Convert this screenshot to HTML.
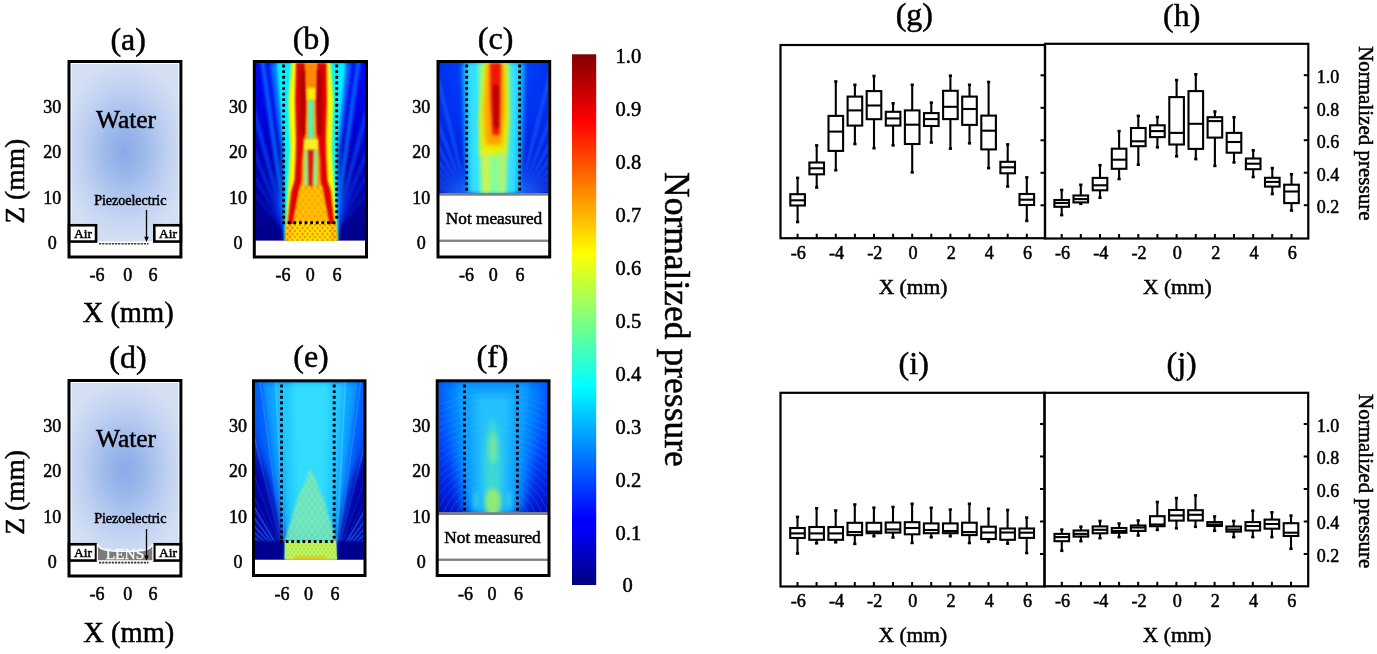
<!DOCTYPE html>
<html><head><meta charset="utf-8"><style>
html,body{margin:0;padding:0;background:#fff;width:1377px;height:654px;overflow:hidden}
svg{display:block;will-change:transform}
text{font-family:"Liberation Serif", serif;fill:#000;stroke:#000;stroke-width:0.5px}
</style></head><body>
<svg width="1377" height="654" viewBox="0 0 1377 654">
<defs><linearGradient id="jetv" x1="0" y1="0" x2="0" y2="1"><stop offset="0.000" stop-color="#800000"/><stop offset="0.110" stop-color="#f00000"/><stop offset="0.125" stop-color="#ff0000"/><stop offset="0.340" stop-color="#ffdb00"/><stop offset="0.375" stop-color="#ffff00"/><stop offset="0.500" stop-color="#7fff7f"/><stop offset="0.625" stop-color="#00ffff"/><stop offset="0.660" stop-color="#00dbff"/><stop offset="0.875" stop-color="#0000ff"/><stop offset="0.890" stop-color="#0000ff"/><stop offset="1.000" stop-color="#000080"/></linearGradient><radialGradient id="water" cx="0.5" cy="0.49" r="0.6" fx="0.5" fy="0.49" gradientTransform="translate(0.5 0.49) scale(1 0.85) translate(-0.5 -0.49)"><stop offset="0" stop-color="#89aae8"/><stop offset="0.3" stop-color="#9db9eb"/><stop offset="0.65" stop-color="#bdcff1"/><stop offset="1" stop-color="#d4dff4"/></radialGradient><pattern id="latt" width="6" height="8" patternUnits="userSpaceOnUse"><rect width="6" height="8" fill="#ff7400"/><path d="M0 0 L6 8 M6 0 L0 8" stroke="#ffe000" stroke-width="1.8"/></pattern><pattern id="latt2" width="5" height="6" patternUnits="userSpaceOnUse"><rect width="5" height="6" fill="#ff8000"/><path d="M0 0 L5 6 M5 0 L0 6" stroke="#ffe800" stroke-width="1.5"/></pattern><pattern id="lattG" width="6" height="9" patternUnits="userSpaceOnUse"><rect width="6" height="9" fill="#30e0f0"/><path d="M0 0 L6 9 M6 0 L0 9" stroke="#b8f050" stroke-width="1.5"/></pattern><pattern id="lattY" width="4" height="6" patternUnits="userSpaceOnUse"><rect width="4" height="6" fill="#70f0a0"/><path d="M0 0 L4 6 M4 0 L0 6" stroke="#e0f030" stroke-width="1.3"/></pattern><filter id="bl0_6" x="-30%" y="-30%" width="160%" height="160%"><feGaussianBlur stdDeviation="0.6"/></filter><filter id="bl1" x="-30%" y="-30%" width="160%" height="160%"><feGaussianBlur stdDeviation="1"/></filter><filter id="bl1_5" x="-30%" y="-30%" width="160%" height="160%"><feGaussianBlur stdDeviation="1.5"/></filter><filter id="bl2" x="-30%" y="-30%" width="160%" height="160%"><feGaussianBlur stdDeviation="2"/></filter><filter id="bl3" x="-30%" y="-30%" width="160%" height="160%"><feGaussianBlur stdDeviation="3"/></filter><filter id="bl4" x="-30%" y="-30%" width="160%" height="160%"><feGaussianBlur stdDeviation="4"/></filter><filter id="bl6" x="-30%" y="-30%" width="160%" height="160%"><feGaussianBlur stdDeviation="6"/></filter></defs>
<rect width="1377" height="654" fill="#fff"/>
<rect x="71.5" y="64" width="106.9" height="190.5" fill="#fff"/>
<rect x="71.5" y="64" width="106.9" height="177.5" fill="url(#water)"/>
<rect x="70.5" y="242" width="108.9" height="14" fill="#fff"/>
<rect x="69.0" y="225.25" width="27.049999999999997" height="16.30000000000001" fill="#fff" stroke="#000" stroke-width="2.6"/>
<rect x="154.3" y="225.25" width="26.600000000000005" height="16.30000000000001" fill="#fff" stroke="#000" stroke-width="2.6"/>
<text x="83" y="238.3" font-size="13.5" text-anchor="middle" >Air</text>
<text x="168" y="238.3" font-size="13.5" text-anchor="middle" >Air</text>
<line x1="99" y1="243.8" x2="148.5" y2="243.8" stroke="#333" stroke-width="1.6" stroke-dasharray="2.2 1"/>
<line x1="146.5" y1="210" x2="146.5" y2="238.8" stroke="#000" stroke-width="1.3"/>
<path d="M144.2 236.8 L148.8 236.8 L146.5 242.0 Z" fill="#000"/>
<text x="130.3" y="204.5" font-size="14" text-anchor="middle" >Piezoelectric</text>
<text x="126" y="127.8" font-size="25.5" text-anchor="middle" >Water</text>
<rect x="69.0" y="61.5" width="111.9" height="195.5" fill="none" stroke="#000" stroke-width="3"/>
<rect x="71.5" y="383" width="106.9" height="190.5" fill="#fff"/>
<rect x="71.5" y="383" width="106.9" height="177.5" fill="url(#water)"/>
<rect x="70.5" y="561" width="108.9" height="14" fill="#fff"/>
<rect x="69.0" y="544.25" width="27.049999999999997" height="16.299999999999955" fill="#fff" stroke="#000" stroke-width="2.6"/>
<rect x="154.3" y="544.25" width="26.600000000000005" height="16.299999999999955" fill="#fff" stroke="#000" stroke-width="2.6"/>
<text x="83" y="557.3" font-size="13.5" text-anchor="middle" >Air</text>
<text x="168" y="557.3" font-size="13.5" text-anchor="middle" >Air</text>
<path d="M97.3 543.5 C99 550.5 108 551.5 125 551.5 C142 551.5 151 550.5 152.9 543.5 L152.9 560.8 L97.3 560.8 Z" fill="#7f7b7b" stroke="#fff" stroke-width="1.2"/>
<text x="125" y="558.8" font-size="15.5" text-anchor="middle" style="fill:#fafafa;stroke:#fafafa;stroke-width:0.3px">LENS</text>
<line x1="99" y1="562.6" x2="148.5" y2="562.6" stroke="#333" stroke-width="1.6" stroke-dasharray="2.2 1"/>
<line x1="146.5" y1="529" x2="146.5" y2="557.6" stroke="#000" stroke-width="1.3"/>
<path d="M144.2 555.6 L148.8 555.6 L146.5 560.8000000000001 Z" fill="#000"/>
<text x="130.3" y="522.7" font-size="14" text-anchor="middle" >Piezoelectric</text>
<text x="126" y="446.8" font-size="25.5" text-anchor="middle" >Water</text>
<rect x="69.0" y="380.5" width="111.9" height="195.5" fill="none" stroke="#000" stroke-width="3"/>
<clipPath id="clipb0"><rect x="254.8" y="62" width="111.19999999999999" height="178.8"/></clipPath>
<rect x="252.8" y="60" width="115.19999999999999" height="198.5" fill="#fff"/>
<g clip-path="url(#clipb0)">
<linearGradient id="bb0" x1="0" y1="0" x2="0" y2="1"><stop offset="0" stop-color="#0008f4"/><stop offset="0.3" stop-color="#0004e0"/><stop offset="0.55" stop-color="#0000b4"/><stop offset="0.8" stop-color="#000098"/><stop offset="1" stop-color="#00008c"/></linearGradient>
<rect x="254.8" y="62" width="111.19999999999999" height="178.8" fill="url(#bb0)"/>
<g filter="url(#bl1_5)"><line x1="286.5" y1="232" x2="250.3" y2="-25.5" stroke="#0070ff" stroke-width="4" opacity="0.9"/><line x1="286.5" y1="232" x2="219.2" y2="-19.1" stroke="#0050ff" stroke-width="3.5" opacity="0.8"/><line x1="286.5" y1="232" x2="189.1" y2="-9.1" stroke="#0040ff" stroke-width="3" opacity="0.7"/><line x1="286.5" y1="232" x2="156.5" y2="6.8" stroke="#0030f0" stroke-width="3" opacity="0.6"/><line x1="286.5" y1="232" x2="119.4" y2="32.8" stroke="#0020e0" stroke-width="3" opacity="0.5"/><line x1="334.5" y1="232" x2="370.7" y2="-25.5" stroke="#0070ff" stroke-width="4" opacity="0.9"/><line x1="334.5" y1="232" x2="401.8" y2="-19.1" stroke="#0050ff" stroke-width="3.5" opacity="0.8"/><line x1="334.5" y1="232" x2="431.9" y2="-9.1" stroke="#0040ff" stroke-width="3" opacity="0.7"/><line x1="334.5" y1="232" x2="464.5" y2="6.8" stroke="#0030f0" stroke-width="3" opacity="0.6"/><line x1="334.5" y1="232" x2="501.6" y2="32.8" stroke="#0020e0" stroke-width="3" opacity="0.5"/></g>
<path d="M270 63 L351 63 L340 150 L338 241 L284.5 241 L281 150 Z" fill="#0080ff" filter="url(#bl2)" opacity="1"/>
<path d="M276.5 63 L345.5 63 L337 150 L337.8 241 L284.8 241 L284 150 Z" fill="#00f0ff" filter="url(#bl1)" opacity="1"/>
<path d="M291 63 L331 63 L333.5 100 L332 150 L337.3 241 L285.3 241 L290 150 L288.5 100 Z" fill="#a0ff60" filter="url(#bl1)" opacity="1"/>
<path d="M292.6 63 L329.4 63 L332.5 100 L331 150 L337 241 L285.6 241 L291 150 L289.5 100 Z" fill="#ffff00" filter="url(#bl1)" opacity="1"/>
<path d="M297 63 L325.5 63 L320 150 L330 222 L292 222 L301 150 Z" fill="#ffa000" filter="url(#bl1)" opacity="1"/>
<path d="M296 63 L295 100 L296 140 L295.5 160 L294.5 180 L291 192 L288 220 L285.5 240 L290.5 240 L293.6 220 L299 192 L301.5 180 L302 160 L304.5 140 L306 100 L305 63 Z" fill="#e00000" filter="url(#bl1)" opacity="1"/>
<path d="M326.5 63 L327 100 L326 140 L326.5 160 L327.5 180 L331 192 L334 220 L336.5 240 L331.5 240 L328.4 220 L323 192 L320.5 180 L320 160 L317.5 140 L316 100 L317 63 Z" fill="#e00000" filter="url(#bl1)" opacity="1"/>
<path d="M300 70 L305.5 70 L305 135 L300 135 Z" fill="#b40000" filter="url(#bl1)" opacity="1"/>
<path d="M316.5 70 L322 70 L322 135 L317 135 Z" fill="#b40000" filter="url(#bl1)" opacity="1"/>
<path d="M306 63 L316 63 L315.5 88 L306.5 88 Z" fill="#ff8800" filter="url(#bl1_5)" opacity="1"/>
<path d="M306.5 88 L315.5 88 L315 100 L307 100 Z" fill="#ffee00" filter="url(#bl1)" opacity="1"/>
<path d="M308 100 L313.6 100 L313.6 140 L308 140 Z" fill="#58f0b8" filter="url(#bl1)" opacity="1"/>
<path d="M304 139 L318 139 L318 150 L304 150 Z" fill="#f8f020" filter="url(#bl1)" opacity="1"/>
<path d="M304.5 150 L317.5 150 L317 186 L304 186 Z" fill="#90f090" filter="url(#bl1)" opacity="1"/>
<path d="M308 150 L313.5 150 L312.5 188 L308.5 188 Z" fill="#e81000" filter="url(#bl1)" opacity="1"/>
<path d="M300 186 L322 186 L328.5 222 L293.5 222 Z" fill="url(#latt)" filter="url(#bl1)" opacity="0.9"/>
<path d="M286.5 224 L335.5 224 L337 241 L285.5 241 Z" fill="url(#latt2)" filter="url(#bl0_6)" opacity="0.9"/>
</g>
<g fill="#000"><rect x="282.15" y="64.55" width="2.9" height="2.9" rx="0.6"/><rect x="282.15" y="70.15" width="2.9" height="2.9" rx="0.6"/><rect x="282.15" y="75.75" width="2.9" height="2.9" rx="0.6"/><rect x="282.15" y="81.35" width="2.9" height="2.9" rx="0.6"/><rect x="282.15" y="86.95" width="2.9" height="2.9" rx="0.6"/><rect x="282.15" y="92.55" width="2.9" height="2.9" rx="0.6"/><rect x="282.15" y="98.15" width="2.9" height="2.9" rx="0.6"/><rect x="282.15" y="103.75" width="2.9" height="2.9" rx="0.6"/><rect x="282.15" y="109.35" width="2.9" height="2.9" rx="0.6"/><rect x="282.15" y="114.95" width="2.9" height="2.9" rx="0.6"/><rect x="282.15" y="120.55" width="2.9" height="2.9" rx="0.6"/><rect x="282.15" y="126.15" width="2.9" height="2.9" rx="0.6"/><rect x="282.15" y="131.75" width="2.9" height="2.9" rx="0.6"/><rect x="282.15" y="137.35" width="2.9" height="2.9" rx="0.6"/><rect x="282.15" y="142.95" width="2.9" height="2.9" rx="0.6"/><rect x="282.15" y="148.55" width="2.9" height="2.9" rx="0.6"/><rect x="282.15" y="154.15" width="2.9" height="2.9" rx="0.6"/><rect x="282.15" y="159.75" width="2.9" height="2.9" rx="0.6"/><rect x="282.15" y="165.35" width="2.9" height="2.9" rx="0.6"/><rect x="282.15" y="170.95" width="2.9" height="2.9" rx="0.6"/><rect x="282.15" y="176.55" width="2.9" height="2.9" rx="0.6"/><rect x="282.15" y="182.15" width="2.9" height="2.9" rx="0.6"/><rect x="282.15" y="187.75" width="2.9" height="2.9" rx="0.6"/><rect x="282.15" y="193.35" width="2.9" height="2.9" rx="0.6"/><rect x="282.15" y="198.95" width="2.9" height="2.9" rx="0.6"/><rect x="282.15" y="204.55" width="2.9" height="2.9" rx="0.6"/><rect x="282.15" y="210.15" width="2.9" height="2.9" rx="0.6"/><rect x="282.15" y="215.75" width="2.9" height="2.9" rx="0.6"/></g>
<g fill="#000"><rect x="335.25" y="64.55" width="2.9" height="2.9" rx="0.6"/><rect x="335.25" y="70.15" width="2.9" height="2.9" rx="0.6"/><rect x="335.25" y="75.75" width="2.9" height="2.9" rx="0.6"/><rect x="335.25" y="81.35" width="2.9" height="2.9" rx="0.6"/><rect x="335.25" y="86.95" width="2.9" height="2.9" rx="0.6"/><rect x="335.25" y="92.55" width="2.9" height="2.9" rx="0.6"/><rect x="335.25" y="98.15" width="2.9" height="2.9" rx="0.6"/><rect x="335.25" y="103.75" width="2.9" height="2.9" rx="0.6"/><rect x="335.25" y="109.35" width="2.9" height="2.9" rx="0.6"/><rect x="335.25" y="114.95" width="2.9" height="2.9" rx="0.6"/><rect x="335.25" y="120.55" width="2.9" height="2.9" rx="0.6"/><rect x="335.25" y="126.15" width="2.9" height="2.9" rx="0.6"/><rect x="335.25" y="131.75" width="2.9" height="2.9" rx="0.6"/><rect x="335.25" y="137.35" width="2.9" height="2.9" rx="0.6"/><rect x="335.25" y="142.95" width="2.9" height="2.9" rx="0.6"/><rect x="335.25" y="148.55" width="2.9" height="2.9" rx="0.6"/><rect x="335.25" y="154.15" width="2.9" height="2.9" rx="0.6"/><rect x="335.25" y="159.75" width="2.9" height="2.9" rx="0.6"/><rect x="335.25" y="165.35" width="2.9" height="2.9" rx="0.6"/><rect x="335.25" y="170.95" width="2.9" height="2.9" rx="0.6"/><rect x="335.25" y="176.55" width="2.9" height="2.9" rx="0.6"/><rect x="335.25" y="182.15" width="2.9" height="2.9" rx="0.6"/><rect x="335.25" y="187.75" width="2.9" height="2.9" rx="0.6"/><rect x="335.25" y="193.35" width="2.9" height="2.9" rx="0.6"/><rect x="335.25" y="198.95" width="2.9" height="2.9" rx="0.6"/><rect x="335.25" y="204.55" width="2.9" height="2.9" rx="0.6"/><rect x="335.25" y="210.15" width="2.9" height="2.9" rx="0.6"/><rect x="335.25" y="215.75" width="2.9" height="2.9" rx="0.6"/></g>
<g fill="#000"><rect x="282.15" y="221.25" width="2.9" height="2.9" rx="0.6"/><rect x="287.75" y="221.25" width="2.9" height="2.9" rx="0.6"/><rect x="293.35" y="221.25" width="2.9" height="2.9" rx="0.6"/><rect x="298.95" y="221.25" width="2.9" height="2.9" rx="0.6"/><rect x="304.55" y="221.25" width="2.9" height="2.9" rx="0.6"/><rect x="310.15" y="221.25" width="2.9" height="2.9" rx="0.6"/><rect x="315.75" y="221.25" width="2.9" height="2.9" rx="0.6"/><rect x="321.35" y="221.25" width="2.9" height="2.9" rx="0.6"/><rect x="326.95" y="221.25" width="2.9" height="2.9" rx="0.6"/><rect x="332.55" y="221.25" width="2.9" height="2.9" rx="0.6"/></g>
<rect x="254.3" y="61.5" width="112.19999999999999" height="195.5" fill="none" stroke="#000" stroke-width="3"/>
<rect x="436.5" y="60" width="114.70000000000005" height="198.5" fill="#fff"/>
<clipPath id="clipc0"><rect x="439.0" y="62.5" width="109.70000000000005" height="131.0"/></clipPath>
<g clip-path="url(#clipc0)">
<radialGradient id="cb0" cx="0.5" cy="0.0" r="1.1" gradientUnits="objectBoundingBox"><stop offset="0" stop-color="#0048ff"/><stop offset="0.5" stop-color="#0030f0"/><stop offset="0.85" stop-color="#0018d8"/><stop offset="1" stop-color="#0008b8"/></radialGradient>
<rect x="439.0" y="62.5" width="109.70000000000005" height="131.0" fill="url(#cb0)"/>
<g filter="url(#bl1_5)"><line x1="469.3" y1="205" x2="416.1" y2="-8.5" stroke="#1a68ff" stroke-width="2.4" opacity="0.8"/><line x1="469.3" y1="205" x2="390.5" y2="-0.4" stroke="#1a68ff" stroke-width="2.4" opacity="0.8"/><line x1="469.3" y1="205" x2="366.0" y2="10.8" stroke="#1a68ff" stroke-width="2.4" opacity="0.8"/><line x1="469.3" y1="205" x2="343.1" y2="24.8" stroke="#1a68ff" stroke-width="2.4" opacity="0.8"/><line x1="469.3" y1="205" x2="322.1" y2="41.5" stroke="#1a68ff" stroke-width="2.4" opacity="0.8"/><line x1="469.3" y1="205" x2="303.3" y2="60.7" stroke="#1a68ff" stroke-width="2.4" opacity="0.8"/><line x1="469.3" y1="205" x2="286.9" y2="82.0" stroke="#1a68ff" stroke-width="2.4" opacity="0.8"/><line x1="469.3" y1="205" x2="273.3" y2="105.1" stroke="#1a68ff" stroke-width="2.4" opacity="0.8"/><line x1="517.3" y1="205" x2="570.5" y2="-8.5" stroke="#1a68ff" stroke-width="2.4" opacity="0.8"/><line x1="517.3" y1="205" x2="596.1" y2="-0.4" stroke="#1a68ff" stroke-width="2.4" opacity="0.8"/><line x1="517.3" y1="205" x2="620.6" y2="10.8" stroke="#1a68ff" stroke-width="2.4" opacity="0.8"/><line x1="517.3" y1="205" x2="643.5" y2="24.8" stroke="#1a68ff" stroke-width="2.4" opacity="0.8"/><line x1="517.3" y1="205" x2="664.5" y2="41.5" stroke="#1a68ff" stroke-width="2.4" opacity="0.8"/><line x1="517.3" y1="205" x2="683.3" y2="60.7" stroke="#1a68ff" stroke-width="2.4" opacity="0.8"/><line x1="517.3" y1="205" x2="699.7" y2="82.0" stroke="#1a68ff" stroke-width="2.4" opacity="0.8"/><line x1="517.3" y1="205" x2="713.3" y2="105.1" stroke="#1a68ff" stroke-width="2.4" opacity="0.8"/></g>
<path d="M462 63 L525 63 L521 193 L466 193 Z" fill="#10b0ff" filter="url(#bl2)" opacity="1"/>
<path d="M467 63 L519 63 L516 193 L470 193 Z" fill="#30e0ff" filter="url(#bl2)" opacity="1"/>
<path d="M478 63 L510 63 L509 120 L506 193 L480 193 L480 120 Z" fill="#80ffa0" filter="url(#bl2)" opacity="1"/>
<path d="M484 63 L507 63 L509 120 L506 155 L480 155 L479 120 Z" fill="#e8f000" filter="url(#bl2)" opacity="1"/>
<path d="M481 150 L491 150 L490 193 L483 193 Z" fill="#e0f040" filter="url(#bl2)" opacity="0.8"/>
<path d="M498 150 L506 150 L505 193 L499 193 Z" fill="#c0f060" filter="url(#bl2)" opacity="0.8"/>
<path d="M487 63 L504 63 L505 110 L502 145 L486 145 L484 110 Z" fill="#ffa000" filter="url(#bl2)" opacity="1"/>
<path d="M490 63 L501 63 L500.5 100 L499.5 135 L492.5 135 L490.5 100 Z" fill="#f01800" filter="url(#bl1_5)" opacity="1"/>
<path d="M493 85 L498.5 85 L498.5 128 L494 128 Z" fill="#b00000" filter="url(#bl1_5)" opacity="1"/>
</g>
<rect x="438.5" y="193" width="110.70000000000005" height="2.7" fill="#808080"/>
<rect x="438.5" y="239.6" width="110.70000000000005" height="2.3" fill="#808080"/>
<text x="494" y="224.3" font-size="17.3" text-anchor="middle" >Not measured</text>
<g fill="#000"><rect x="465.15" y="64.55" width="2.9" height="2.9" rx="0.6"/><rect x="465.15" y="70.15" width="2.9" height="2.9" rx="0.6"/><rect x="465.15" y="75.75" width="2.9" height="2.9" rx="0.6"/><rect x="465.15" y="81.35" width="2.9" height="2.9" rx="0.6"/><rect x="465.15" y="86.95" width="2.9" height="2.9" rx="0.6"/><rect x="465.15" y="92.55" width="2.9" height="2.9" rx="0.6"/><rect x="465.15" y="98.15" width="2.9" height="2.9" rx="0.6"/><rect x="465.15" y="103.75" width="2.9" height="2.9" rx="0.6"/><rect x="465.15" y="109.35" width="2.9" height="2.9" rx="0.6"/><rect x="465.15" y="114.95" width="2.9" height="2.9" rx="0.6"/><rect x="465.15" y="120.55" width="2.9" height="2.9" rx="0.6"/><rect x="465.15" y="126.15" width="2.9" height="2.9" rx="0.6"/><rect x="465.15" y="131.75" width="2.9" height="2.9" rx="0.6"/><rect x="465.15" y="137.35" width="2.9" height="2.9" rx="0.6"/><rect x="465.15" y="142.95" width="2.9" height="2.9" rx="0.6"/><rect x="465.15" y="148.55" width="2.9" height="2.9" rx="0.6"/><rect x="465.15" y="154.15" width="2.9" height="2.9" rx="0.6"/><rect x="465.15" y="159.75" width="2.9" height="2.9" rx="0.6"/><rect x="465.15" y="165.35" width="2.9" height="2.9" rx="0.6"/><rect x="465.15" y="170.95" width="2.9" height="2.9" rx="0.6"/><rect x="465.15" y="176.55" width="2.9" height="2.9" rx="0.6"/><rect x="465.15" y="182.15" width="2.9" height="2.9" rx="0.6"/><rect x="465.15" y="187.75" width="2.9" height="2.9" rx="0.6"/></g>
<g fill="#000"><rect x="518.15" y="64.55" width="2.9" height="2.9" rx="0.6"/><rect x="518.15" y="70.15" width="2.9" height="2.9" rx="0.6"/><rect x="518.15" y="75.75" width="2.9" height="2.9" rx="0.6"/><rect x="518.15" y="81.35" width="2.9" height="2.9" rx="0.6"/><rect x="518.15" y="86.95" width="2.9" height="2.9" rx="0.6"/><rect x="518.15" y="92.55" width="2.9" height="2.9" rx="0.6"/><rect x="518.15" y="98.15" width="2.9" height="2.9" rx="0.6"/><rect x="518.15" y="103.75" width="2.9" height="2.9" rx="0.6"/><rect x="518.15" y="109.35" width="2.9" height="2.9" rx="0.6"/><rect x="518.15" y="114.95" width="2.9" height="2.9" rx="0.6"/><rect x="518.15" y="120.55" width="2.9" height="2.9" rx="0.6"/><rect x="518.15" y="126.15" width="2.9" height="2.9" rx="0.6"/><rect x="518.15" y="131.75" width="2.9" height="2.9" rx="0.6"/><rect x="518.15" y="137.35" width="2.9" height="2.9" rx="0.6"/><rect x="518.15" y="142.95" width="2.9" height="2.9" rx="0.6"/><rect x="518.15" y="148.55" width="2.9" height="2.9" rx="0.6"/><rect x="518.15" y="154.15" width="2.9" height="2.9" rx="0.6"/><rect x="518.15" y="159.75" width="2.9" height="2.9" rx="0.6"/><rect x="518.15" y="165.35" width="2.9" height="2.9" rx="0.6"/><rect x="518.15" y="170.95" width="2.9" height="2.9" rx="0.6"/><rect x="518.15" y="176.55" width="2.9" height="2.9" rx="0.6"/><rect x="518.15" y="182.15" width="2.9" height="2.9" rx="0.6"/><rect x="518.15" y="187.75" width="2.9" height="2.9" rx="0.6"/></g>
<rect x="438.0" y="61.5" width="111.70000000000005" height="195.5" fill="none" stroke="#000" stroke-width="3"/>
<rect x="252" y="379.3" width="114.5" height="197.7" fill="#fff"/>
<clipPath id="clipe"><rect x="254.5" y="381.8" width="109.5" height="177.8"/></clipPath>
<g clip-path="url(#clipe)">
<radialGradient id="eb" cx="0.5" cy="0.0" r="1.0"><stop offset="0" stop-color="#10b0ff"/><stop offset="0.4" stop-color="#0070ff"/><stop offset="0.7" stop-color="#0018d0"/><stop offset="0.9" stop-color="#0000a0"/><stop offset="1" stop-color="#000090"/></radialGradient>
<rect x="254.5" y="381.8" width="109.5" height="177.8" fill="url(#eb)"/>
<path d="M284 560 L337 560 L376 383 L245 383 Z" fill="#0060ff" filter="url(#bl4)" opacity="0.9"/>
<path d="M285 556 L336 556 L358 383 L263 383 Z" fill="#10a0ff" filter="url(#bl3)" opacity="1"/>
<path d="M289 548 L332 548 L345 383 L276 383 Z" fill="#20c8ff" filter="url(#bl3)" opacity="1"/>
<path d="M295 530 L326 530 L330 383 L291 383 Z" fill="#30dcff" filter="url(#bl3)" opacity="1"/>
<g filter="url(#bl0_6)"><line x1="285.0" y1="560" x2="248.8" y2="302.5" stroke="#3090ff" stroke-width="1.6" opacity="0.55"/><line x1="285.0" y1="560" x2="222.1" y2="307.7" stroke="#3090ff" stroke-width="1.6" opacity="0.55"/><line x1="285.0" y1="560" x2="196.1" y2="315.7" stroke="#3090ff" stroke-width="1.6" opacity="0.55"/><line x1="285.0" y1="560" x2="171.0" y2="326.3" stroke="#3090ff" stroke-width="1.6" opacity="0.55"/><line x1="285.0" y1="560" x2="147.2" y2="339.5" stroke="#3090ff" stroke-width="1.6" opacity="0.55"/><line x1="285.0" y1="560" x2="124.9" y2="355.1" stroke="#3090ff" stroke-width="1.6" opacity="0.55"/><line x1="285.0" y1="560" x2="104.4" y2="373.0" stroke="#3090ff" stroke-width="1.6" opacity="0.55"/><line x1="285.0" y1="560" x2="85.8" y2="392.9" stroke="#3090ff" stroke-width="1.6" opacity="0.55"/><line x1="285.0" y1="560" x2="69.5" y2="414.6" stroke="#3090ff" stroke-width="1.6" opacity="0.55"/><line x1="285.0" y1="560" x2="55.4" y2="437.9" stroke="#3090ff" stroke-width="1.6" opacity="0.55"/><line x1="285.0" y1="560" x2="43.9" y2="462.6" stroke="#3090ff" stroke-width="1.6" opacity="0.55"/><line x1="336.0" y1="560" x2="372.2" y2="302.5" stroke="#3090ff" stroke-width="1.6" opacity="0.55"/><line x1="336.0" y1="560" x2="398.9" y2="307.7" stroke="#3090ff" stroke-width="1.6" opacity="0.55"/><line x1="336.0" y1="560" x2="424.9" y2="315.7" stroke="#3090ff" stroke-width="1.6" opacity="0.55"/><line x1="336.0" y1="560" x2="450.0" y2="326.3" stroke="#3090ff" stroke-width="1.6" opacity="0.55"/><line x1="336.0" y1="560" x2="473.8" y2="339.5" stroke="#3090ff" stroke-width="1.6" opacity="0.55"/><line x1="336.0" y1="560" x2="496.1" y2="355.1" stroke="#3090ff" stroke-width="1.6" opacity="0.55"/><line x1="336.0" y1="560" x2="516.6" y2="373.0" stroke="#3090ff" stroke-width="1.6" opacity="0.55"/><line x1="336.0" y1="560" x2="535.2" y2="392.9" stroke="#3090ff" stroke-width="1.6" opacity="0.55"/><line x1="336.0" y1="560" x2="551.5" y2="414.6" stroke="#3090ff" stroke-width="1.6" opacity="0.55"/><line x1="336.0" y1="560" x2="565.6" y2="437.9" stroke="#3090ff" stroke-width="1.6" opacity="0.55"/><line x1="336.0" y1="560" x2="577.1" y2="462.6" stroke="#3090ff" stroke-width="1.6" opacity="0.55"/></g>
<g filter="url(#bl0_6)"><line x1="285.0" y1="560" x2="274.5" y2="360.3" stroke="#60e8ff" stroke-width="1.6" opacity="0.35"/><line x1="336.0" y1="560" x2="346.5" y2="360.3" stroke="#60e8ff" stroke-width="1.6" opacity="0.35"/></g>
<path d="M250 562 L284 562 L284 541 L268 480 L250 440 Z" fill="#0000a0" filter="url(#bl4)" opacity="0.75"/>
<path d="M372 562 L337.5 562 L337.5 541 L353 480 L372 440 Z" fill="#0000a0" filter="url(#bl4)" opacity="0.75"/>
<g filter="url(#bl0_6)"><line x1="285.0" y1="560" x2="225.0" y2="456.1" stroke="#2070ff" stroke-width="1.5" opacity="0.6"/><line x1="285.0" y1="560" x2="214.5" y2="462.9" stroke="#2070ff" stroke-width="1.5" opacity="0.6"/><line x1="285.0" y1="560" x2="204.7" y2="470.8" stroke="#2070ff" stroke-width="1.5" opacity="0.6"/><line x1="285.0" y1="560" x2="195.8" y2="479.7" stroke="#2070ff" stroke-width="1.5" opacity="0.6"/><line x1="285.0" y1="560" x2="187.9" y2="489.5" stroke="#2070ff" stroke-width="1.5" opacity="0.6"/><line x1="285.0" y1="560" x2="181.1" y2="500.0" stroke="#2070ff" stroke-width="1.5" opacity="0.6"/><line x1="285.0" y1="560" x2="175.4" y2="511.2" stroke="#2070ff" stroke-width="1.5" opacity="0.6"/><line x1="336.0" y1="560" x2="396.0" y2="456.1" stroke="#2070ff" stroke-width="1.5" opacity="0.6"/><line x1="336.0" y1="560" x2="406.5" y2="462.9" stroke="#2070ff" stroke-width="1.5" opacity="0.6"/><line x1="336.0" y1="560" x2="416.3" y2="470.8" stroke="#2070ff" stroke-width="1.5" opacity="0.6"/><line x1="336.0" y1="560" x2="425.2" y2="479.7" stroke="#2070ff" stroke-width="1.5" opacity="0.6"/><line x1="336.0" y1="560" x2="433.1" y2="489.5" stroke="#2070ff" stroke-width="1.5" opacity="0.6"/><line x1="336.0" y1="560" x2="439.9" y2="500.0" stroke="#2070ff" stroke-width="1.5" opacity="0.6"/><line x1="336.0" y1="560" x2="445.6" y2="511.2" stroke="#2070ff" stroke-width="1.5" opacity="0.6"/></g>
<rect x="250" y="541" width="34" height="20" fill="#000090" filter="url(#bl1)"/>
<rect x="337.5" y="541" width="34" height="20" fill="#000090" filter="url(#bl1)"/>
<path d="M284.5 541 L336.5 541 L324 500 L310.5 468 L297 500 Z" fill="url(#lattG)" filter="url(#bl1)" opacity="0.8"/>
<path d="M284.8 541 L336.2 541 L337 560 L284.5 560 Z" fill="url(#lattY)" filter="url(#bl0_6)" opacity="1"/>
<path d="M295 556 L326 556 L327 560 L294 560 Z" fill="#f0b000" filter="url(#bl1)" opacity="0.6"/>
</g>
<g fill="#000"><rect x="280.05" y="384.55" width="2.9" height="2.9" rx="0.6"/><rect x="280.05" y="390.15" width="2.9" height="2.9" rx="0.6"/><rect x="280.05" y="395.75" width="2.9" height="2.9" rx="0.6"/><rect x="280.05" y="401.35" width="2.9" height="2.9" rx="0.6"/><rect x="280.05" y="406.95" width="2.9" height="2.9" rx="0.6"/><rect x="280.05" y="412.55" width="2.9" height="2.9" rx="0.6"/><rect x="280.05" y="418.15" width="2.9" height="2.9" rx="0.6"/><rect x="280.05" y="423.75" width="2.9" height="2.9" rx="0.6"/><rect x="280.05" y="429.35" width="2.9" height="2.9" rx="0.6"/><rect x="280.05" y="434.95" width="2.9" height="2.9" rx="0.6"/><rect x="280.05" y="440.55" width="2.9" height="2.9" rx="0.6"/><rect x="280.05" y="446.15" width="2.9" height="2.9" rx="0.6"/><rect x="280.05" y="451.75" width="2.9" height="2.9" rx="0.6"/><rect x="280.05" y="457.35" width="2.9" height="2.9" rx="0.6"/><rect x="280.05" y="462.95" width="2.9" height="2.9" rx="0.6"/><rect x="280.05" y="468.55" width="2.9" height="2.9" rx="0.6"/><rect x="280.05" y="474.15" width="2.9" height="2.9" rx="0.6"/><rect x="280.05" y="479.75" width="2.9" height="2.9" rx="0.6"/><rect x="280.05" y="485.35" width="2.9" height="2.9" rx="0.6"/><rect x="280.05" y="490.95" width="2.9" height="2.9" rx="0.6"/><rect x="280.05" y="496.55" width="2.9" height="2.9" rx="0.6"/><rect x="280.05" y="502.15" width="2.9" height="2.9" rx="0.6"/><rect x="280.05" y="507.75" width="2.9" height="2.9" rx="0.6"/><rect x="280.05" y="513.35" width="2.9" height="2.9" rx="0.6"/><rect x="280.05" y="518.95" width="2.9" height="2.9" rx="0.6"/><rect x="280.05" y="524.55" width="2.9" height="2.9" rx="0.6"/><rect x="280.05" y="530.15" width="2.9" height="2.9" rx="0.6"/><rect x="280.05" y="535.75" width="2.9" height="2.9" rx="0.6"/></g>
<g fill="#000"><rect x="332.75" y="384.55" width="2.9" height="2.9" rx="0.6"/><rect x="332.75" y="390.15" width="2.9" height="2.9" rx="0.6"/><rect x="332.75" y="395.75" width="2.9" height="2.9" rx="0.6"/><rect x="332.75" y="401.35" width="2.9" height="2.9" rx="0.6"/><rect x="332.75" y="406.95" width="2.9" height="2.9" rx="0.6"/><rect x="332.75" y="412.55" width="2.9" height="2.9" rx="0.6"/><rect x="332.75" y="418.15" width="2.9" height="2.9" rx="0.6"/><rect x="332.75" y="423.75" width="2.9" height="2.9" rx="0.6"/><rect x="332.75" y="429.35" width="2.9" height="2.9" rx="0.6"/><rect x="332.75" y="434.95" width="2.9" height="2.9" rx="0.6"/><rect x="332.75" y="440.55" width="2.9" height="2.9" rx="0.6"/><rect x="332.75" y="446.15" width="2.9" height="2.9" rx="0.6"/><rect x="332.75" y="451.75" width="2.9" height="2.9" rx="0.6"/><rect x="332.75" y="457.35" width="2.9" height="2.9" rx="0.6"/><rect x="332.75" y="462.95" width="2.9" height="2.9" rx="0.6"/><rect x="332.75" y="468.55" width="2.9" height="2.9" rx="0.6"/><rect x="332.75" y="474.15" width="2.9" height="2.9" rx="0.6"/><rect x="332.75" y="479.75" width="2.9" height="2.9" rx="0.6"/><rect x="332.75" y="485.35" width="2.9" height="2.9" rx="0.6"/><rect x="332.75" y="490.95" width="2.9" height="2.9" rx="0.6"/><rect x="332.75" y="496.55" width="2.9" height="2.9" rx="0.6"/><rect x="332.75" y="502.15" width="2.9" height="2.9" rx="0.6"/><rect x="332.75" y="507.75" width="2.9" height="2.9" rx="0.6"/><rect x="332.75" y="513.35" width="2.9" height="2.9" rx="0.6"/><rect x="332.75" y="518.95" width="2.9" height="2.9" rx="0.6"/><rect x="332.75" y="524.55" width="2.9" height="2.9" rx="0.6"/><rect x="332.75" y="530.15" width="2.9" height="2.9" rx="0.6"/><rect x="332.75" y="535.75" width="2.9" height="2.9" rx="0.6"/></g>
<g fill="#000"><rect x="280.05" y="540.05" width="2.9" height="2.9" rx="0.6"/><rect x="285.65" y="540.05" width="2.9" height="2.9" rx="0.6"/><rect x="291.25" y="540.05" width="2.9" height="2.9" rx="0.6"/><rect x="296.85" y="540.05" width="2.9" height="2.9" rx="0.6"/><rect x="302.45" y="540.05" width="2.9" height="2.9" rx="0.6"/><rect x="308.05" y="540.05" width="2.9" height="2.9" rx="0.6"/><rect x="313.65" y="540.05" width="2.9" height="2.9" rx="0.6"/><rect x="319.25" y="540.05" width="2.9" height="2.9" rx="0.6"/><rect x="324.85" y="540.05" width="2.9" height="2.9" rx="0.6"/><rect x="330.45" y="540.05" width="2.9" height="2.9" rx="0.6"/></g>
<rect x="253.5" y="380.8" width="111.5" height="194.7" fill="none" stroke="#000" stroke-width="3"/>
<rect x="435.7" y="379.3" width="114.80000000000001" height="197.7" fill="#fff"/>
<clipPath id="clipf"><rect x="438.2" y="381.8" width="109.80000000000001" height="130.99999999999994"/></clipPath>
<g clip-path="url(#clipf)">
<radialGradient id="fb" cx="0.5" cy="0.1" r="1.0"><stop offset="0" stop-color="#0070ff"/><stop offset="0.55" stop-color="#0048ff"/><stop offset="0.85" stop-color="#0020e0"/><stop offset="1" stop-color="#0010c0"/></radialGradient>
<rect x="438.2" y="381.8" width="109.80000000000001" height="130.99999999999994" fill="url(#fb)"/>
<path d="M464 513 L522 513 L545 383 L441 383 Z" fill="#0080ff" filter="url(#bl6)" opacity="1"/>
<path d="M470 513 L516 513 L530 383 L456 383 Z" fill="#10a0ff" filter="url(#bl4)" opacity="1"/>
<path d="M478 513 L508 513 L512 395 L474 395 Z" fill="#20c0ff" filter="url(#bl4)" opacity="1"/>
<ellipse cx="492.5" cy="468" rx="8.5" ry="50" fill="#40e0c8" filter="url(#bl3)" opacity="0.8"/>
<ellipse cx="493" cy="448" rx="4.5" ry="16" fill="#a8f070" filter="url(#bl2)" opacity="0.5"/>
<ellipse cx="493" cy="502" rx="8" ry="14" fill="#a8f060" filter="url(#bl2)" opacity="0.8"/>
<ellipse cx="476" cy="500" rx="3" ry="10" fill="#40d8e0" filter="url(#bl2)" opacity="0.6"/>
<ellipse cx="509" cy="500" rx="3" ry="10" fill="#40d8e0" filter="url(#bl2)" opacity="0.6"/>
<g><circle cx="492.5" cy="530" r="40" fill="none" stroke="#60c0ff" stroke-width="0.8" opacity="0.25"/><circle cx="492.5" cy="530" r="46" fill="none" stroke="#60c0ff" stroke-width="0.8" opacity="0.25"/><circle cx="492.5" cy="530" r="52" fill="none" stroke="#60c0ff" stroke-width="0.8" opacity="0.25"/><circle cx="492.5" cy="530" r="58" fill="none" stroke="#60c0ff" stroke-width="0.8" opacity="0.25"/><circle cx="492.5" cy="530" r="64" fill="none" stroke="#60c0ff" stroke-width="0.8" opacity="0.25"/><circle cx="492.5" cy="530" r="70" fill="none" stroke="#60c0ff" stroke-width="0.8" opacity="0.25"/><circle cx="492.5" cy="530" r="76" fill="none" stroke="#60c0ff" stroke-width="0.8" opacity="0.25"/><circle cx="492.5" cy="530" r="82" fill="none" stroke="#60c0ff" stroke-width="0.8" opacity="0.25"/><circle cx="492.5" cy="530" r="88" fill="none" stroke="#60c0ff" stroke-width="0.8" opacity="0.25"/><circle cx="492.5" cy="530" r="94" fill="none" stroke="#60c0ff" stroke-width="0.8" opacity="0.25"/><circle cx="492.5" cy="530" r="100" fill="none" stroke="#60c0ff" stroke-width="0.8" opacity="0.25"/><circle cx="492.5" cy="530" r="106" fill="none" stroke="#60c0ff" stroke-width="0.8" opacity="0.25"/><circle cx="492.5" cy="530" r="112" fill="none" stroke="#60c0ff" stroke-width="0.8" opacity="0.25"/><circle cx="492.5" cy="530" r="118" fill="none" stroke="#60c0ff" stroke-width="0.8" opacity="0.25"/><circle cx="492.5" cy="530" r="124" fill="none" stroke="#60c0ff" stroke-width="0.8" opacity="0.25"/><circle cx="492.5" cy="530" r="130" fill="none" stroke="#60c0ff" stroke-width="0.8" opacity="0.25"/><circle cx="492.5" cy="530" r="136" fill="none" stroke="#60c0ff" stroke-width="0.8" opacity="0.25"/></g>
</g>
<rect x="437.7" y="512.3" width="110.80000000000001" height="2.7" fill="#808080"/>
<rect x="437.7" y="558.6" width="110.80000000000001" height="2.3" fill="#808080"/>
<text x="492.5" y="543.3" font-size="17.3" text-anchor="middle" >Not measured</text>
<g fill="#000"><rect x="463.05" y="384.55" width="2.9" height="2.9" rx="0.6"/><rect x="463.05" y="390.15" width="2.9" height="2.9" rx="0.6"/><rect x="463.05" y="395.75" width="2.9" height="2.9" rx="0.6"/><rect x="463.05" y="401.35" width="2.9" height="2.9" rx="0.6"/><rect x="463.05" y="406.95" width="2.9" height="2.9" rx="0.6"/><rect x="463.05" y="412.55" width="2.9" height="2.9" rx="0.6"/><rect x="463.05" y="418.15" width="2.9" height="2.9" rx="0.6"/><rect x="463.05" y="423.75" width="2.9" height="2.9" rx="0.6"/><rect x="463.05" y="429.35" width="2.9" height="2.9" rx="0.6"/><rect x="463.05" y="434.95" width="2.9" height="2.9" rx="0.6"/><rect x="463.05" y="440.55" width="2.9" height="2.9" rx="0.6"/><rect x="463.05" y="446.15" width="2.9" height="2.9" rx="0.6"/><rect x="463.05" y="451.75" width="2.9" height="2.9" rx="0.6"/><rect x="463.05" y="457.35" width="2.9" height="2.9" rx="0.6"/><rect x="463.05" y="462.95" width="2.9" height="2.9" rx="0.6"/><rect x="463.05" y="468.55" width="2.9" height="2.9" rx="0.6"/><rect x="463.05" y="474.15" width="2.9" height="2.9" rx="0.6"/><rect x="463.05" y="479.75" width="2.9" height="2.9" rx="0.6"/><rect x="463.05" y="485.35" width="2.9" height="2.9" rx="0.6"/><rect x="463.05" y="490.95" width="2.9" height="2.9" rx="0.6"/><rect x="463.05" y="496.55" width="2.9" height="2.9" rx="0.6"/><rect x="463.05" y="502.15" width="2.9" height="2.9" rx="0.6"/><rect x="463.05" y="507.75" width="2.9" height="2.9" rx="0.6"/></g>
<g fill="#000"><rect x="515.95" y="384.55" width="2.9" height="2.9" rx="0.6"/><rect x="515.95" y="390.15" width="2.9" height="2.9" rx="0.6"/><rect x="515.95" y="395.75" width="2.9" height="2.9" rx="0.6"/><rect x="515.95" y="401.35" width="2.9" height="2.9" rx="0.6"/><rect x="515.95" y="406.95" width="2.9" height="2.9" rx="0.6"/><rect x="515.95" y="412.55" width="2.9" height="2.9" rx="0.6"/><rect x="515.95" y="418.15" width="2.9" height="2.9" rx="0.6"/><rect x="515.95" y="423.75" width="2.9" height="2.9" rx="0.6"/><rect x="515.95" y="429.35" width="2.9" height="2.9" rx="0.6"/><rect x="515.95" y="434.95" width="2.9" height="2.9" rx="0.6"/><rect x="515.95" y="440.55" width="2.9" height="2.9" rx="0.6"/><rect x="515.95" y="446.15" width="2.9" height="2.9" rx="0.6"/><rect x="515.95" y="451.75" width="2.9" height="2.9" rx="0.6"/><rect x="515.95" y="457.35" width="2.9" height="2.9" rx="0.6"/><rect x="515.95" y="462.95" width="2.9" height="2.9" rx="0.6"/><rect x="515.95" y="468.55" width="2.9" height="2.9" rx="0.6"/><rect x="515.95" y="474.15" width="2.9" height="2.9" rx="0.6"/><rect x="515.95" y="479.75" width="2.9" height="2.9" rx="0.6"/><rect x="515.95" y="485.35" width="2.9" height="2.9" rx="0.6"/><rect x="515.95" y="490.95" width="2.9" height="2.9" rx="0.6"/><rect x="515.95" y="496.55" width="2.9" height="2.9" rx="0.6"/><rect x="515.95" y="502.15" width="2.9" height="2.9" rx="0.6"/><rect x="515.95" y="507.75" width="2.9" height="2.9" rx="0.6"/></g>
<rect x="437.2" y="380.8" width="111.80000000000001" height="194.7" fill="none" stroke="#000" stroke-width="3"/>
<text x="128.2" y="50.4" font-size="32" text-anchor="middle" >(a)</text>
<text x="311.3" y="48.5" font-size="32" text-anchor="middle" >(b)</text>
<text x="495.6" y="48.6" font-size="32" text-anchor="middle" >(c)</text>
<text x="127.9" y="368.4" font-size="32" text-anchor="middle" >(d)</text>
<text x="311.0" y="367.2" font-size="32" text-anchor="middle" >(e)</text>
<text x="492.5" y="367.2" font-size="32" text-anchor="middle" >(f)</text>
<text x="52.2" y="113.0" font-size="18" text-anchor="middle" >30</text>
<text x="52.2" y="158.3" font-size="18" text-anchor="middle" >20</text>
<text x="52.2" y="204.0" font-size="18" text-anchor="middle" >10</text>
<text x="52.2" y="249.4" font-size="18" text-anchor="middle" >0</text>
<text x="52.2" y="432.0" font-size="18" text-anchor="middle" >30</text>
<text x="52.2" y="477.3" font-size="18" text-anchor="middle" >20</text>
<text x="52.2" y="523.0" font-size="18" text-anchor="middle" >10</text>
<text x="52.2" y="568.4" font-size="18" text-anchor="middle" >0</text>
<text x="238.0" y="113.0" font-size="18" text-anchor="middle" >30</text>
<text x="238.0" y="158.3" font-size="18" text-anchor="middle" >20</text>
<text x="238.0" y="204.0" font-size="18" text-anchor="middle" >10</text>
<text x="238.0" y="249.4" font-size="18" text-anchor="middle" >0</text>
<text x="238.0" y="432.0" font-size="18" text-anchor="middle" >30</text>
<text x="238.0" y="477.3" font-size="18" text-anchor="middle" >20</text>
<text x="238.0" y="523.0" font-size="18" text-anchor="middle" >10</text>
<text x="238.0" y="568.4" font-size="18" text-anchor="middle" >0</text>
<text x="421.2" y="113.0" font-size="18" text-anchor="middle" >30</text>
<text x="421.2" y="158.3" font-size="18" text-anchor="middle" >20</text>
<text x="421.2" y="204.0" font-size="18" text-anchor="middle" >10</text>
<text x="421.2" y="249.4" font-size="18" text-anchor="middle" >0</text>
<text x="421.2" y="432.0" font-size="18" text-anchor="middle" >30</text>
<text x="421.2" y="477.3" font-size="18" text-anchor="middle" >20</text>
<text x="421.2" y="523.0" font-size="18" text-anchor="middle" >10</text>
<text x="421.2" y="568.4" font-size="18" text-anchor="middle" >0</text>
<text x="96.9" y="281.4" font-size="18" text-anchor="middle" >-6</text>
<text x="127.7" y="281.4" font-size="18" text-anchor="middle" >0</text>
<text x="152.9" y="281.4" font-size="18" text-anchor="middle" >6</text>
<text x="282.9" y="281.4" font-size="18" text-anchor="middle" >-6</text>
<text x="310.2" y="281.4" font-size="18" text-anchor="middle" >0</text>
<text x="337.0" y="281.4" font-size="18" text-anchor="middle" >6</text>
<text x="466.4" y="281.4" font-size="18" text-anchor="middle" >-6</text>
<text x="493.3" y="281.4" font-size="18" text-anchor="middle" >0</text>
<text x="520.0" y="281.4" font-size="18" text-anchor="middle" >6</text>
<text x="96.9" y="600.4" font-size="18" text-anchor="middle" >-6</text>
<text x="127.7" y="600.4" font-size="18" text-anchor="middle" >0</text>
<text x="152.9" y="600.4" font-size="18" text-anchor="middle" >6</text>
<text x="282.0" y="600.4" font-size="18" text-anchor="middle" >-6</text>
<text x="308.5" y="600.4" font-size="18" text-anchor="middle" >0</text>
<text x="335.0" y="600.4" font-size="18" text-anchor="middle" >6</text>
<text x="465.5" y="600.4" font-size="18" text-anchor="middle" >-6</text>
<text x="492.0" y="600.4" font-size="18" text-anchor="middle" >0</text>
<text x="518.5" y="600.4" font-size="18" text-anchor="middle" >6</text>
<text x="128.2" y="322" font-size="28.5" text-anchor="middle" >X (mm)</text>
<text x="128.8" y="642.2" font-size="28.5" text-anchor="middle" >X (mm)</text>
<text transform="translate(24.2 181.2) rotate(-90)" font-size="27.5" text-anchor="middle">Z (mm)</text>
<text transform="translate(24.2 492.4) rotate(-90)" font-size="27.5" text-anchor="middle">Z (mm)</text>
<rect x="572" y="54.3" width="24.2" height="530.7" fill="url(#jetv)"/>
<text x="615.5" y="63.0" font-size="20.5" text-anchor="start" >1.0</text>
<text x="615.5" y="116.0" font-size="20.5" text-anchor="start" >0.9</text>
<text x="615.5" y="168.9" font-size="20.5" text-anchor="start" >0.8</text>
<text x="615.5" y="221.9" font-size="20.5" text-anchor="start" >0.7</text>
<text x="615.5" y="274.8" font-size="20.5" text-anchor="start" >0.6</text>
<text x="615.5" y="327.8" font-size="20.5" text-anchor="start" >0.5</text>
<text x="615.5" y="380.8" font-size="20.5" text-anchor="start" >0.4</text>
<text x="615.5" y="433.7" font-size="20.5" text-anchor="start" >0.3</text>
<text x="615.5" y="486.7" font-size="20.5" text-anchor="start" >0.2</text>
<text x="615.5" y="539.6" font-size="20.5" text-anchor="start" >0.1</text>
<text x="627.5" y="592.3" font-size="20.5" text-anchor="middle" >0</text>
<text transform="translate(664.8 319.4) rotate(90)" font-size="35.5" text-anchor="middle">Normalized pressure</text>
<rect x="780.5" y="45" width="264.5" height="193.2" fill="none" stroke="#000" stroke-width="2.2"/><line x1="797.6" y1="238.2" x2="797.6" y2="233.7" stroke="#000" stroke-width="2"/><line x1="816.7" y1="238.2" x2="816.7" y2="233.7" stroke="#000" stroke-width="2"/><line x1="835.8" y1="238.2" x2="835.8" y2="233.7" stroke="#000" stroke-width="2"/><line x1="854.9" y1="238.2" x2="854.9" y2="233.7" stroke="#000" stroke-width="2"/><line x1="874.0" y1="238.2" x2="874.0" y2="233.7" stroke="#000" stroke-width="2"/><line x1="893.1" y1="238.2" x2="893.1" y2="233.7" stroke="#000" stroke-width="2"/><line x1="912.2" y1="238.2" x2="912.2" y2="233.7" stroke="#000" stroke-width="2"/><line x1="931.3" y1="238.2" x2="931.3" y2="233.7" stroke="#000" stroke-width="2"/><line x1="950.4" y1="238.2" x2="950.4" y2="233.7" stroke="#000" stroke-width="2"/><line x1="969.5" y1="238.2" x2="969.5" y2="233.7" stroke="#000" stroke-width="2"/><line x1="988.6" y1="238.2" x2="988.6" y2="233.7" stroke="#000" stroke-width="2"/><line x1="1007.7" y1="238.2" x2="1007.7" y2="233.7" stroke="#000" stroke-width="2"/><line x1="1026.8" y1="238.2" x2="1026.8" y2="233.7" stroke="#000" stroke-width="2"/><line x1="1045" y1="75.3" x2="1040.5" y2="75.3" stroke="#000" stroke-width="2"/><line x1="1045" y1="107.8" x2="1040.5" y2="107.8" stroke="#000" stroke-width="2"/><line x1="1045" y1="140.3" x2="1040.5" y2="140.3" stroke="#000" stroke-width="2"/><line x1="1045" y1="172.8" x2="1040.5" y2="172.8" stroke="#000" stroke-width="2"/><line x1="1045" y1="205.3" x2="1040.5" y2="205.3" stroke="#000" stroke-width="2"/>
<g stroke="#000" stroke-width="2.1" fill="none" stroke-linecap="butt">
<line x1="797.6" y1="177.9" x2="797.6" y2="194.2"/><line x1="797.6" y1="205.5" x2="797.6" y2="222.0"/><line x1="796.0" y1="177.9" x2="799.2" y2="177.9" stroke-width="2.6"/><line x1="796.0" y1="222.0" x2="799.2" y2="222.0" stroke-width="2.6"/><rect x="790.3000000000001" y="194.2" width="14.6" height="11.300000000000011" fill="#fff"/><line x1="790.3000000000001" y1="200.3" x2="804.9" y2="200.3"/>
<line x1="816.7" y1="145.4" x2="816.7" y2="162.5"/><line x1="816.7" y1="174.3" x2="816.7" y2="187.5"/><line x1="815.1" y1="145.4" x2="818.3000000000001" y2="145.4" stroke-width="2.6"/><line x1="815.1" y1="187.5" x2="818.3000000000001" y2="187.5" stroke-width="2.6"/><rect x="809.4000000000001" y="162.5" width="14.6" height="11.800000000000011" fill="#fff"/><line x1="809.4000000000001" y1="168.3" x2="824.0" y2="168.3"/>
<line x1="835.8" y1="81.5" x2="835.8" y2="115.9"/><line x1="835.8" y1="150.9" x2="835.8" y2="170.2"/><line x1="834.1999999999999" y1="81.5" x2="837.4" y2="81.5" stroke-width="2.6"/><line x1="834.1999999999999" y1="170.2" x2="837.4" y2="170.2" stroke-width="2.6"/><rect x="828.5" y="115.9" width="14.6" height="35.0" fill="#fff"/><line x1="828.5" y1="131.6" x2="843.0999999999999" y2="131.6"/>
<line x1="854.9" y1="84.8" x2="854.9" y2="96.6"/><line x1="854.9" y1="125.6" x2="854.9" y2="144.0"/><line x1="853.3" y1="84.8" x2="856.5" y2="84.8" stroke-width="2.6"/><line x1="853.3" y1="144.0" x2="856.5" y2="144.0" stroke-width="2.6"/><rect x="847.6" y="96.6" width="14.6" height="29.0" fill="#fff"/><line x1="847.6" y1="110.4" x2="862.1999999999999" y2="110.4"/>
<line x1="874.0" y1="76.0" x2="874.0" y2="91.1"/><line x1="874.0" y1="119.2" x2="874.0" y2="148.2"/><line x1="872.4" y1="76.0" x2="875.6" y2="76.0" stroke-width="2.6"/><line x1="872.4" y1="148.2" x2="875.6" y2="148.2" stroke-width="2.6"/><rect x="866.7" y="91.1" width="14.6" height="28.10000000000001" fill="#fff"/><line x1="866.7" y1="105.5" x2="881.3" y2="105.5"/>
<line x1="893.1" y1="103.3" x2="893.1" y2="111.8"/><line x1="893.1" y1="125.6" x2="893.1" y2="145.4"/><line x1="891.5" y1="103.3" x2="894.7" y2="103.3" stroke-width="2.6"/><line x1="891.5" y1="145.4" x2="894.7" y2="145.4" stroke-width="2.6"/><rect x="885.8000000000001" y="111.8" width="14.6" height="13.799999999999997" fill="#fff"/><line x1="885.8000000000001" y1="118.4" x2="900.4" y2="118.4"/>
<line x1="912.2" y1="84.8" x2="912.2" y2="110.4"/><line x1="912.2" y1="144.0" x2="912.2" y2="172.4"/><line x1="910.6" y1="84.8" x2="913.8000000000001" y2="84.8" stroke-width="2.6"/><line x1="910.6" y1="172.4" x2="913.8000000000001" y2="172.4" stroke-width="2.6"/><rect x="904.9000000000001" y="110.4" width="14.6" height="33.599999999999994" fill="#fff"/><line x1="904.9000000000001" y1="124.7" x2="919.5" y2="124.7"/>
<line x1="931.3" y1="102.6" x2="931.3" y2="113.1"/><line x1="931.3" y1="126.0" x2="931.3" y2="142.5"/><line x1="929.6999999999999" y1="102.6" x2="932.9" y2="102.6" stroke-width="2.6"/><line x1="929.6999999999999" y1="142.5" x2="932.9" y2="142.5" stroke-width="2.6"/><rect x="924.0" y="113.1" width="14.6" height="12.900000000000006" fill="#fff"/><line x1="924.0" y1="119.1" x2="938.5999999999999" y2="119.1"/>
<line x1="950.4" y1="75.7" x2="950.4" y2="90.8"/><line x1="950.4" y1="119.1" x2="950.4" y2="148.6"/><line x1="948.8" y1="75.7" x2="952.0" y2="75.7" stroke-width="2.6"/><line x1="948.8" y1="148.6" x2="952.0" y2="148.6" stroke-width="2.6"/><rect x="943.1" y="90.8" width="14.6" height="28.299999999999997" fill="#fff"/><line x1="943.1" y1="106.8" x2="957.6999999999999" y2="106.8"/>
<line x1="969.5" y1="84.8" x2="969.5" y2="96.6"/><line x1="969.5" y1="124.9" x2="969.5" y2="143.3"/><line x1="967.9" y1="84.8" x2="971.1" y2="84.8" stroke-width="2.6"/><line x1="967.9" y1="143.3" x2="971.1" y2="143.3" stroke-width="2.6"/><rect x="962.2" y="96.6" width="14.6" height="28.30000000000001" fill="#fff"/><line x1="962.2" y1="109.0" x2="976.8" y2="109.0"/>
<line x1="988.6" y1="82.0" x2="988.6" y2="115.6"/><line x1="988.6" y1="149.4" x2="988.6" y2="168.1"/><line x1="987.0" y1="82.0" x2="990.2" y2="82.0" stroke-width="2.6"/><line x1="987.0" y1="168.1" x2="990.2" y2="168.1" stroke-width="2.6"/><rect x="981.3000000000001" y="115.6" width="14.6" height="33.80000000000001" fill="#fff"/><line x1="981.3000000000001" y1="130.7" x2="995.9" y2="130.7"/>
<line x1="1007.7" y1="144.4" x2="1007.7" y2="161.8"/><line x1="1007.7" y1="173.3" x2="1007.7" y2="186.5"/><line x1="1006.1" y1="144.4" x2="1009.3000000000001" y2="144.4" stroke-width="2.6"/><line x1="1006.1" y1="186.5" x2="1009.3000000000001" y2="186.5" stroke-width="2.6"/><rect x="1000.4000000000001" y="161.8" width="14.6" height="11.5" fill="#fff"/><line x1="1000.4000000000001" y1="167.3" x2="1015.0" y2="167.3"/>
<line x1="1026.8" y1="177.4" x2="1026.8" y2="194.0"/><line x1="1026.8" y1="205.0" x2="1026.8" y2="220.9"/><line x1="1025.2" y1="177.4" x2="1028.3999999999999" y2="177.4" stroke-width="2.6"/><line x1="1025.2" y1="220.9" x2="1028.3999999999999" y2="220.9" stroke-width="2.6"/><rect x="1019.5" y="194.0" width="14.6" height="11.0" fill="#fff"/><line x1="1019.5" y1="199.7" x2="1034.1" y2="199.7"/>
</g>
<text x="798.4" y="258.6" font-size="18.2" text-anchor="middle" >-6</text>
<text x="836.6" y="258.6" font-size="18.2" text-anchor="middle" >-4</text>
<text x="874.8" y="258.6" font-size="18.2" text-anchor="middle" >-2</text>
<text x="913.0" y="258.6" font-size="18.2" text-anchor="middle" >0</text>
<text x="951.2" y="258.6" font-size="18.2" text-anchor="middle" >2</text>
<text x="989.4" y="258.6" font-size="18.2" text-anchor="middle" >4</text>
<text x="1027.6" y="258.6" font-size="18.2" text-anchor="middle" >6</text>
<text x="913.0" y="293.6" font-size="21.5" text-anchor="middle" >X (mm)</text>
<text x="914.3" y="25.3" font-size="32" text-anchor="middle" >(g)</text>
<rect x="1045" y="43.8" width="263.29999999999995" height="194.7" fill="none" stroke="#000" stroke-width="2.2"/><line x1="1061.7" y1="238.5" x2="1061.7" y2="234.0" stroke="#000" stroke-width="2"/><line x1="1080.8" y1="238.5" x2="1080.8" y2="234.0" stroke="#000" stroke-width="2"/><line x1="1100.0" y1="238.5" x2="1100.0" y2="234.0" stroke="#000" stroke-width="2"/><line x1="1119.1" y1="238.5" x2="1119.1" y2="234.0" stroke="#000" stroke-width="2"/><line x1="1138.3" y1="238.5" x2="1138.3" y2="234.0" stroke="#000" stroke-width="2"/><line x1="1157.4" y1="238.5" x2="1157.4" y2="234.0" stroke="#000" stroke-width="2"/><line x1="1176.6" y1="238.5" x2="1176.6" y2="234.0" stroke="#000" stroke-width="2"/><line x1="1195.8" y1="238.5" x2="1195.8" y2="234.0" stroke="#000" stroke-width="2"/><line x1="1214.9" y1="238.5" x2="1214.9" y2="234.0" stroke="#000" stroke-width="2"/><line x1="1234.0" y1="238.5" x2="1234.0" y2="234.0" stroke="#000" stroke-width="2"/><line x1="1253.2" y1="238.5" x2="1253.2" y2="234.0" stroke="#000" stroke-width="2"/><line x1="1272.3" y1="238.5" x2="1272.3" y2="234.0" stroke="#000" stroke-width="2"/><line x1="1291.5" y1="238.5" x2="1291.5" y2="234.0" stroke="#000" stroke-width="2"/><line x1="1308.3" y1="75.2" x2="1303.8" y2="75.2" stroke="#000" stroke-width="2"/><line x1="1308.3" y1="107.7" x2="1303.8" y2="107.7" stroke="#000" stroke-width="2"/><line x1="1308.3" y1="140.2" x2="1303.8" y2="140.2" stroke="#000" stroke-width="2"/><line x1="1308.3" y1="172.7" x2="1303.8" y2="172.7" stroke="#000" stroke-width="2"/><line x1="1308.3" y1="205.2" x2="1303.8" y2="205.2" stroke="#000" stroke-width="2"/>
<g stroke="#000" stroke-width="2.1" fill="none" stroke-linecap="butt">
<line x1="1061.7" y1="190.0" x2="1061.7" y2="200.0"/><line x1="1061.7" y1="206.8" x2="1061.7" y2="215.1"/><line x1="1060.1000000000001" y1="190.0" x2="1063.3" y2="190.0" stroke-width="2.6"/><line x1="1060.1000000000001" y1="215.1" x2="1063.3" y2="215.1" stroke-width="2.6"/><rect x="1054.4" y="200.0" width="14.6" height="6.800000000000011" fill="#fff"/><line x1="1054.4" y1="203.0" x2="1069.0" y2="203.0"/>
<line x1="1080.8" y1="184.8" x2="1080.8" y2="195.5"/><line x1="1080.8" y1="202.4" x2="1080.8" y2="203.8"/><line x1="1079.2" y1="184.8" x2="1082.3999999999999" y2="184.8" stroke-width="2.6"/><line x1="1079.2" y1="203.8" x2="1082.3999999999999" y2="203.8" stroke-width="2.6"/><rect x="1073.5" y="195.5" width="14.6" height="6.900000000000006" fill="#fff"/><line x1="1073.5" y1="199.1" x2="1088.1" y2="199.1"/>
<line x1="1100.0" y1="165.2" x2="1100.0" y2="177.9"/><line x1="1100.0" y1="190.3" x2="1100.0" y2="197.7"/><line x1="1098.4" y1="165.2" x2="1101.6" y2="165.2" stroke-width="2.6"/><line x1="1098.4" y1="197.7" x2="1101.6" y2="197.7" stroke-width="2.6"/><rect x="1092.7" y="177.9" width="14.6" height="12.400000000000006" fill="#fff"/><line x1="1092.7" y1="185.3" x2="1107.3" y2="185.3"/>
<line x1="1119.1" y1="131.1" x2="1119.1" y2="148.7"/><line x1="1119.1" y1="168.8" x2="1119.1" y2="179.0"/><line x1="1117.5" y1="131.1" x2="1120.6999999999998" y2="131.1" stroke-width="2.6"/><line x1="1117.5" y1="179.0" x2="1120.6999999999998" y2="179.0" stroke-width="2.6"/><rect x="1111.8" y="148.7" width="14.6" height="20.100000000000023" fill="#fff"/><line x1="1111.8" y1="159.7" x2="1126.3999999999999" y2="159.7"/>
<line x1="1138.3" y1="115.9" x2="1138.3" y2="128.0"/><line x1="1138.3" y1="146.2" x2="1138.3" y2="164.7"/><line x1="1136.7" y1="115.9" x2="1139.8999999999999" y2="115.9" stroke-width="2.6"/><line x1="1136.7" y1="164.7" x2="1139.8999999999999" y2="164.7" stroke-width="2.6"/><rect x="1131.0" y="128.0" width="14.6" height="18.19999999999999" fill="#fff"/><line x1="1131.0" y1="141.3" x2="1145.6" y2="141.3"/>
<line x1="1157.4" y1="117.0" x2="1157.4" y2="125.3"/><line x1="1157.4" y1="137.1" x2="1157.4" y2="147.3"/><line x1="1155.8000000000002" y1="117.0" x2="1159.0" y2="117.0" stroke-width="2.6"/><line x1="1155.8000000000002" y1="147.3" x2="1159.0" y2="147.3" stroke-width="2.6"/><rect x="1150.1000000000001" y="125.3" width="14.6" height="11.799999999999997" fill="#fff"/><line x1="1150.1000000000001" y1="131.1" x2="1164.7" y2="131.1"/>
<line x1="1176.6" y1="80.1" x2="1176.6" y2="97.1"/><line x1="1176.6" y1="144.5" x2="1176.6" y2="156.3"/><line x1="1175.0" y1="80.1" x2="1178.1999999999998" y2="80.1" stroke-width="2.6"/><line x1="1175.0" y1="156.3" x2="1178.1999999999998" y2="156.3" stroke-width="2.6"/><rect x="1169.3" y="97.1" width="14.6" height="47.400000000000006" fill="#fff"/><line x1="1169.3" y1="132.9" x2="1183.8999999999999" y2="132.9"/>
<line x1="1195.8" y1="74.3" x2="1195.8" y2="91.1"/><line x1="1195.8" y1="148.9" x2="1195.8" y2="159.1"/><line x1="1194.2" y1="74.3" x2="1197.3999999999999" y2="74.3" stroke-width="2.6"/><line x1="1194.2" y1="159.1" x2="1197.3999999999999" y2="159.1" stroke-width="2.6"/><rect x="1188.5" y="91.1" width="14.6" height="57.80000000000001" fill="#fff"/><line x1="1188.5" y1="123.8" x2="1203.1" y2="123.8"/>
<line x1="1214.9" y1="111.5" x2="1214.9" y2="117.2"/><line x1="1214.9" y1="137.6" x2="1214.9" y2="165.9"/><line x1="1213.3000000000002" y1="111.5" x2="1216.5" y2="111.5" stroke-width="2.6"/><line x1="1213.3000000000002" y1="165.9" x2="1216.5" y2="165.9" stroke-width="2.6"/><rect x="1207.6000000000001" y="117.2" width="14.6" height="20.39999999999999" fill="#fff"/><line x1="1207.6000000000001" y1="121.1" x2="1222.2" y2="121.1"/>
<line x1="1234.0" y1="117.2" x2="1234.0" y2="132.9"/><line x1="1234.0" y1="152.7" x2="1234.0" y2="162.4"/><line x1="1232.4" y1="117.2" x2="1235.6" y2="117.2" stroke-width="2.6"/><line x1="1232.4" y1="162.4" x2="1235.6" y2="162.4" stroke-width="2.6"/><rect x="1226.7" y="132.9" width="14.6" height="19.799999999999983" fill="#fff"/><line x1="1226.7" y1="142.0" x2="1241.3" y2="142.0"/>
<line x1="1253.2" y1="150.3" x2="1253.2" y2="158.5"/><line x1="1253.2" y1="169.2" x2="1253.2" y2="177.0"/><line x1="1251.6000000000001" y1="150.3" x2="1254.8" y2="150.3" stroke-width="2.6"/><line x1="1251.6000000000001" y1="177.0" x2="1254.8" y2="177.0" stroke-width="2.6"/><rect x="1245.9" y="158.5" width="14.6" height="10.699999999999989" fill="#fff"/><line x1="1245.9" y1="163.7" x2="1260.5" y2="163.7"/>
<line x1="1272.3" y1="168.1" x2="1272.3" y2="177.8"/><line x1="1272.3" y1="186.6" x2="1272.3" y2="194.0"/><line x1="1270.7" y1="168.1" x2="1273.8999999999999" y2="168.1" stroke-width="2.6"/><line x1="1270.7" y1="194.0" x2="1273.8999999999999" y2="194.0" stroke-width="2.6"/><rect x="1265.0" y="177.8" width="14.6" height="8.799999999999983" fill="#fff"/><line x1="1265.0" y1="181.9" x2="1279.6" y2="181.9"/>
<line x1="1291.5" y1="174.2" x2="1291.5" y2="184.7"/><line x1="1291.5" y1="203.1" x2="1291.5" y2="210.5"/><line x1="1289.9" y1="174.2" x2="1293.1" y2="174.2" stroke-width="2.6"/><line x1="1289.9" y1="210.5" x2="1293.1" y2="210.5" stroke-width="2.6"/><rect x="1284.2" y="184.7" width="14.6" height="18.400000000000006" fill="#fff"/><line x1="1284.2" y1="191.5" x2="1298.8" y2="191.5"/>
</g>
<text x="1062.5" y="258.6" font-size="18.2" text-anchor="middle" >-6</text>
<text x="1100.8" y="258.6" font-size="18.2" text-anchor="middle" >-4</text>
<text x="1139.1" y="258.6" font-size="18.2" text-anchor="middle" >-2</text>
<text x="1177.4" y="258.6" font-size="18.2" text-anchor="middle" >0</text>
<text x="1215.7" y="258.6" font-size="18.2" text-anchor="middle" >2</text>
<text x="1254.0" y="258.6" font-size="18.2" text-anchor="middle" >4</text>
<text x="1292.3" y="258.6" font-size="18.2" text-anchor="middle" >6</text>
<text x="1177.4" y="293.6" font-size="21.5" text-anchor="middle" >X (mm)</text>
<text x="1181.7" y="25.5" font-size="32" text-anchor="middle" >(h)</text>
<text x="1316.8" y="83.0" font-size="18" text-anchor="start" >1.0</text>
<text x="1316.8" y="115.5" font-size="18" text-anchor="start" >0.8</text>
<text x="1316.8" y="148.0" font-size="18" text-anchor="start" >0.6</text>
<text x="1316.8" y="180.5" font-size="18" text-anchor="start" >0.4</text>
<text x="1316.8" y="213.0" font-size="18" text-anchor="start" >0.2</text>
<rect x="780.5" y="392.8" width="264.0" height="193.7" fill="none" stroke="#000" stroke-width="2.2"/><line x1="797.5" y1="586.5" x2="797.5" y2="582.0" stroke="#000" stroke-width="2"/><line x1="816.6" y1="586.5" x2="816.6" y2="582.0" stroke="#000" stroke-width="2"/><line x1="835.7" y1="586.5" x2="835.7" y2="582.0" stroke="#000" stroke-width="2"/><line x1="854.8" y1="586.5" x2="854.8" y2="582.0" stroke="#000" stroke-width="2"/><line x1="873.9" y1="586.5" x2="873.9" y2="582.0" stroke="#000" stroke-width="2"/><line x1="893.0" y1="586.5" x2="893.0" y2="582.0" stroke="#000" stroke-width="2"/><line x1="912.1" y1="586.5" x2="912.1" y2="582.0" stroke="#000" stroke-width="2"/><line x1="931.2" y1="586.5" x2="931.2" y2="582.0" stroke="#000" stroke-width="2"/><line x1="950.3" y1="586.5" x2="950.3" y2="582.0" stroke="#000" stroke-width="2"/><line x1="969.4" y1="586.5" x2="969.4" y2="582.0" stroke="#000" stroke-width="2"/><line x1="988.5" y1="586.5" x2="988.5" y2="582.0" stroke="#000" stroke-width="2"/><line x1="1007.6" y1="586.5" x2="1007.6" y2="582.0" stroke="#000" stroke-width="2"/><line x1="1026.7" y1="586.5" x2="1026.7" y2="582.0" stroke="#000" stroke-width="2"/><line x1="1044.5" y1="424.0" x2="1040.0" y2="424.0" stroke="#000" stroke-width="2"/><line x1="1044.5" y1="456.5" x2="1040.0" y2="456.5" stroke="#000" stroke-width="2"/><line x1="1044.5" y1="489.0" x2="1040.0" y2="489.0" stroke="#000" stroke-width="2"/><line x1="1044.5" y1="521.5" x2="1040.0" y2="521.5" stroke="#000" stroke-width="2"/><line x1="1044.5" y1="554.0" x2="1040.0" y2="554.0" stroke="#000" stroke-width="2"/>
<g stroke="#000" stroke-width="2.1" fill="none" stroke-linecap="butt">
<line x1="797.5" y1="516.9" x2="797.5" y2="528.0"/><line x1="797.5" y1="538.0" x2="797.5" y2="553.5"/><line x1="795.9" y1="516.9" x2="799.1" y2="516.9" stroke-width="2.6"/><line x1="795.9" y1="553.5" x2="799.1" y2="553.5" stroke-width="2.6"/><rect x="790.2" y="528.0" width="14.6" height="10.0" fill="#fff"/><line x1="790.2" y1="533.4" x2="804.8" y2="533.4"/>
<line x1="816.6" y1="508.3" x2="816.6" y2="527.0"/><line x1="816.6" y1="539.8" x2="816.6" y2="543.3"/><line x1="815.0" y1="508.3" x2="818.2" y2="508.3" stroke-width="2.6"/><line x1="815.0" y1="543.3" x2="818.2" y2="543.3" stroke-width="2.6"/><rect x="809.3000000000001" y="527.0" width="14.6" height="12.799999999999955" fill="#fff"/><line x1="809.3000000000001" y1="533.4" x2="823.9" y2="533.4"/>
<line x1="835.7" y1="510.5" x2="835.7" y2="527.0"/><line x1="835.7" y1="539.8" x2="835.7" y2="542.3"/><line x1="834.1" y1="510.5" x2="837.3000000000001" y2="510.5" stroke-width="2.6"/><line x1="834.1" y1="542.3" x2="837.3000000000001" y2="542.3" stroke-width="2.6"/><rect x="828.4000000000001" y="527.0" width="14.6" height="12.799999999999955" fill="#fff"/><line x1="828.4000000000001" y1="533.4" x2="843.0" y2="533.4"/>
<line x1="854.8" y1="504.5" x2="854.8" y2="522.8"/><line x1="854.8" y1="535.1" x2="854.8" y2="543.9"/><line x1="853.1999999999999" y1="504.5" x2="856.4" y2="504.5" stroke-width="2.6"/><line x1="853.1999999999999" y1="543.9" x2="856.4" y2="543.9" stroke-width="2.6"/><rect x="847.5" y="522.8" width="14.6" height="12.300000000000068" fill="#fff"/><line x1="847.5" y1="532.1" x2="862.0999999999999" y2="532.1"/>
<line x1="873.9" y1="507.7" x2="873.9" y2="522.8"/><line x1="873.9" y1="533.2" x2="873.9" y2="536.2"/><line x1="872.3" y1="507.7" x2="875.5" y2="507.7" stroke-width="2.6"/><line x1="872.3" y1="536.2" x2="875.5" y2="536.2" stroke-width="2.6"/><rect x="866.6" y="522.8" width="14.6" height="10.400000000000091" fill="#fff"/><line x1="866.6" y1="531.6" x2="881.1999999999999" y2="531.6"/>
<line x1="893.0" y1="507.0" x2="893.0" y2="522.5"/><line x1="893.0" y1="532.6" x2="893.0" y2="537.5"/><line x1="891.4" y1="507.0" x2="894.6" y2="507.0" stroke-width="2.6"/><line x1="891.4" y1="537.5" x2="894.6" y2="537.5" stroke-width="2.6"/><rect x="885.7" y="522.5" width="14.6" height="10.100000000000023" fill="#fff"/><line x1="885.7" y1="529.4" x2="900.3" y2="529.4"/>
<line x1="912.1" y1="503.8" x2="912.1" y2="522.2"/><line x1="912.1" y1="534.3" x2="912.1" y2="542.9"/><line x1="910.5" y1="503.8" x2="913.7" y2="503.8" stroke-width="2.6"/><line x1="910.5" y1="542.9" x2="913.7" y2="542.9" stroke-width="2.6"/><rect x="904.8000000000001" y="522.2" width="14.6" height="12.099999999999909" fill="#fff"/><line x1="904.8000000000001" y1="528.0" x2="919.4" y2="528.0"/>
<line x1="931.2" y1="507.8" x2="931.2" y2="523.4"/><line x1="931.2" y1="533.2" x2="931.2" y2="537.3"/><line x1="929.6" y1="507.8" x2="932.8000000000001" y2="507.8" stroke-width="2.6"/><line x1="929.6" y1="537.3" x2="932.8000000000001" y2="537.3" stroke-width="2.6"/><rect x="923.9000000000001" y="523.4" width="14.6" height="9.800000000000068" fill="#fff"/><line x1="923.9000000000001" y1="530.0" x2="938.5" y2="530.0"/>
<line x1="950.3" y1="509.6" x2="950.3" y2="523.4"/><line x1="950.3" y1="533.2" x2="950.3" y2="536.2"/><line x1="948.6999999999999" y1="509.6" x2="951.9" y2="509.6" stroke-width="2.6"/><line x1="948.6999999999999" y1="536.2" x2="951.9" y2="536.2" stroke-width="2.6"/><rect x="943.0" y="523.4" width="14.6" height="9.800000000000068" fill="#fff"/><line x1="943.0" y1="531.0" x2="957.5999999999999" y2="531.0"/>
<line x1="969.4" y1="503.8" x2="969.4" y2="522.7"/><line x1="969.4" y1="535.1" x2="969.4" y2="543.0"/><line x1="967.8" y1="503.8" x2="971.0" y2="503.8" stroke-width="2.6"/><line x1="967.8" y1="543.0" x2="971.0" y2="543.0" stroke-width="2.6"/><rect x="962.1" y="522.7" width="14.6" height="12.399999999999977" fill="#fff"/><line x1="962.1" y1="532.1" x2="976.6999999999999" y2="532.1"/>
<line x1="988.5" y1="508.7" x2="988.5" y2="526.7"/><line x1="988.5" y1="539.0" x2="988.5" y2="541.9"/><line x1="986.9" y1="508.7" x2="990.1" y2="508.7" stroke-width="2.6"/><line x1="986.9" y1="541.9" x2="990.1" y2="541.9" stroke-width="2.6"/><rect x="981.2" y="526.7" width="14.6" height="12.299999999999955" fill="#fff"/><line x1="981.2" y1="532.5" x2="995.8" y2="532.5"/>
<line x1="1007.6" y1="510.0" x2="1007.6" y2="528.5"/><line x1="1007.6" y1="539.8" x2="1007.6" y2="543.6"/><line x1="1006.0" y1="510.0" x2="1009.2" y2="510.0" stroke-width="2.6"/><line x1="1006.0" y1="543.6" x2="1009.2" y2="543.6" stroke-width="2.6"/><rect x="1000.3000000000001" y="528.5" width="14.6" height="11.299999999999955" fill="#fff"/><line x1="1000.3000000000001" y1="532.5" x2="1014.9" y2="532.5"/>
<line x1="1026.7" y1="517.6" x2="1026.7" y2="528.5"/><line x1="1026.7" y1="537.9" x2="1026.7" y2="553.0"/><line x1="1025.1000000000001" y1="517.6" x2="1028.3" y2="517.6" stroke-width="2.6"/><line x1="1025.1000000000001" y1="553.0" x2="1028.3" y2="553.0" stroke-width="2.6"/><rect x="1019.4000000000001" y="528.5" width="14.6" height="9.399999999999977" fill="#fff"/><line x1="1019.4000000000001" y1="532.7" x2="1034.0" y2="532.7"/>
</g>
<text x="798.3" y="607.3" font-size="18.2" text-anchor="middle" >-6</text>
<text x="836.5" y="607.3" font-size="18.2" text-anchor="middle" >-4</text>
<text x="874.7" y="607.3" font-size="18.2" text-anchor="middle" >-2</text>
<text x="912.9" y="607.3" font-size="18.2" text-anchor="middle" >0</text>
<text x="951.1" y="607.3" font-size="18.2" text-anchor="middle" >2</text>
<text x="989.3" y="607.3" font-size="18.2" text-anchor="middle" >4</text>
<text x="1027.5" y="607.3" font-size="18.2" text-anchor="middle" >6</text>
<text x="912.9" y="642.3" font-size="21.5" text-anchor="middle" >X (mm)</text>
<text x="913.7" y="373.7" font-size="32" text-anchor="middle" >(i)</text>
<rect x="1044.5" y="392.8" width="263.70000000000005" height="193.49999999999994" fill="none" stroke="#000" stroke-width="2.2"/><line x1="1061.8" y1="586.3" x2="1061.8" y2="581.8" stroke="#000" stroke-width="2"/><line x1="1080.9" y1="586.3" x2="1080.9" y2="581.8" stroke="#000" stroke-width="2"/><line x1="1100.0" y1="586.3" x2="1100.0" y2="581.8" stroke="#000" stroke-width="2"/><line x1="1119.1" y1="586.3" x2="1119.1" y2="581.8" stroke="#000" stroke-width="2"/><line x1="1138.2" y1="586.3" x2="1138.2" y2="581.8" stroke="#000" stroke-width="2"/><line x1="1157.3" y1="586.3" x2="1157.3" y2="581.8" stroke="#000" stroke-width="2"/><line x1="1176.4" y1="586.3" x2="1176.4" y2="581.8" stroke="#000" stroke-width="2"/><line x1="1195.5" y1="586.3" x2="1195.5" y2="581.8" stroke="#000" stroke-width="2"/><line x1="1214.6" y1="586.3" x2="1214.6" y2="581.8" stroke="#000" stroke-width="2"/><line x1="1233.7" y1="586.3" x2="1233.7" y2="581.8" stroke="#000" stroke-width="2"/><line x1="1252.8" y1="586.3" x2="1252.8" y2="581.8" stroke="#000" stroke-width="2"/><line x1="1271.9" y1="586.3" x2="1271.9" y2="581.8" stroke="#000" stroke-width="2"/><line x1="1291.0" y1="586.3" x2="1291.0" y2="581.8" stroke="#000" stroke-width="2"/><line x1="1308.2" y1="424.0" x2="1303.7" y2="424.0" stroke="#000" stroke-width="2"/><line x1="1308.2" y1="456.5" x2="1303.7" y2="456.5" stroke="#000" stroke-width="2"/><line x1="1308.2" y1="489.0" x2="1303.7" y2="489.0" stroke="#000" stroke-width="2"/><line x1="1308.2" y1="521.5" x2="1303.7" y2="521.5" stroke="#000" stroke-width="2"/><line x1="1308.2" y1="554.0" x2="1303.7" y2="554.0" stroke="#000" stroke-width="2"/>
<g stroke="#000" stroke-width="2.1" fill="none" stroke-linecap="butt">
<line x1="1061.8" y1="529.6" x2="1061.8" y2="533.9"/><line x1="1061.8" y1="541.2" x2="1061.8" y2="550.8"/><line x1="1060.2" y1="529.6" x2="1063.3999999999999" y2="529.6" stroke-width="2.6"/><line x1="1060.2" y1="550.8" x2="1063.3999999999999" y2="550.8" stroke-width="2.6"/><rect x="1054.5" y="533.9" width="14.6" height="7.300000000000068" fill="#fff"/><line x1="1054.5" y1="537.1" x2="1069.1" y2="537.1"/>
<line x1="1080.9" y1="526.7" x2="1080.9" y2="530.5"/><line x1="1080.9" y1="536.6" x2="1080.9" y2="541.2"/><line x1="1079.3000000000002" y1="526.7" x2="1082.5" y2="526.7" stroke-width="2.6"/><line x1="1079.3000000000002" y1="541.2" x2="1082.5" y2="541.2" stroke-width="2.6"/><rect x="1073.6000000000001" y="530.5" width="14.6" height="6.100000000000023" fill="#fff"/><line x1="1073.6000000000001" y1="533.9" x2="1088.2" y2="533.9"/>
<line x1="1100.0" y1="521.0" x2="1100.0" y2="526.4"/><line x1="1100.0" y1="533.3" x2="1100.0" y2="538.2"/><line x1="1098.4" y1="521.0" x2="1101.6" y2="521.0" stroke-width="2.6"/><line x1="1098.4" y1="538.2" x2="1101.6" y2="538.2" stroke-width="2.6"/><rect x="1092.7" y="526.4" width="14.6" height="6.899999999999977" fill="#fff"/><line x1="1092.7" y1="529.8" x2="1107.3" y2="529.8"/>
<line x1="1119.1" y1="523.5" x2="1119.1" y2="528.0"/><line x1="1119.1" y1="532.8" x2="1119.1" y2="537.1"/><line x1="1117.5" y1="523.5" x2="1120.6999999999998" y2="523.5" stroke-width="2.6"/><line x1="1117.5" y1="537.1" x2="1120.6999999999998" y2="537.1" stroke-width="2.6"/><rect x="1111.8" y="528.0" width="14.6" height="4.7999999999999545" fill="#fff"/><line x1="1111.8" y1="531.0" x2="1126.3999999999999" y2="531.0"/>
<line x1="1138.2" y1="520.5" x2="1138.2" y2="525.5"/><line x1="1138.2" y1="530.9" x2="1138.2" y2="535.5"/><line x1="1136.6000000000001" y1="520.5" x2="1139.8" y2="520.5" stroke-width="2.6"/><line x1="1136.6000000000001" y1="535.5" x2="1139.8" y2="535.5" stroke-width="2.6"/><rect x="1130.9" y="525.5" width="14.6" height="5.399999999999977" fill="#fff"/><line x1="1130.9" y1="527.5" x2="1145.5" y2="527.5"/>
<line x1="1157.3" y1="502.0" x2="1157.3" y2="516.2"/><line x1="1157.3" y1="526.2" x2="1157.3" y2="529.9"/><line x1="1155.7" y1="502.0" x2="1158.8999999999999" y2="502.0" stroke-width="2.6"/><line x1="1155.7" y1="529.9" x2="1158.8999999999999" y2="529.9" stroke-width="2.6"/><rect x="1150.0" y="516.2" width="14.6" height="10.0" fill="#fff"/><line x1="1150.0" y1="524.5" x2="1164.6" y2="524.5"/>
<line x1="1176.4" y1="498.1" x2="1176.4" y2="510.0"/><line x1="1176.4" y1="520.6" x2="1176.4" y2="528.3"/><line x1="1174.8000000000002" y1="498.1" x2="1178.0" y2="498.1" stroke-width="2.6"/><line x1="1174.8000000000002" y1="528.3" x2="1178.0" y2="528.3" stroke-width="2.6"/><rect x="1169.1000000000001" y="510.0" width="14.6" height="10.600000000000023" fill="#fff"/><line x1="1169.1000000000001" y1="515.4" x2="1183.7" y2="515.4"/>
<line x1="1195.5" y1="495.4" x2="1195.5" y2="510.2"/><line x1="1195.5" y1="520.5" x2="1195.5" y2="526.8"/><line x1="1193.9" y1="495.4" x2="1197.1" y2="495.4" stroke-width="2.6"/><line x1="1193.9" y1="526.8" x2="1197.1" y2="526.8" stroke-width="2.6"/><rect x="1188.2" y="510.2" width="14.6" height="10.300000000000011" fill="#fff"/><line x1="1188.2" y1="514.8" x2="1202.8" y2="514.8"/>
<line x1="1214.6" y1="516.5" x2="1214.6" y2="522.1"/><line x1="1214.6" y1="526.0" x2="1214.6" y2="530.8"/><line x1="1213.0" y1="516.5" x2="1216.1999999999998" y2="516.5" stroke-width="2.6"/><line x1="1213.0" y1="530.8" x2="1216.1999999999998" y2="530.8" stroke-width="2.6"/><rect x="1207.3" y="522.1" width="14.6" height="3.8999999999999773" fill="#fff"/><line x1="1207.3" y1="524.5" x2="1221.8999999999999" y2="524.5"/>
<line x1="1233.7" y1="521.0" x2="1233.7" y2="526.5"/><line x1="1233.7" y1="531.6" x2="1233.7" y2="537.1"/><line x1="1232.1000000000001" y1="521.0" x2="1235.3" y2="521.0" stroke-width="2.6"/><line x1="1232.1000000000001" y1="537.1" x2="1235.3" y2="537.1" stroke-width="2.6"/><rect x="1226.4" y="526.5" width="14.6" height="5.100000000000023" fill="#fff"/><line x1="1226.4" y1="529.5" x2="1241.0" y2="529.5"/>
<line x1="1252.8" y1="510.7" x2="1252.8" y2="522.1"/><line x1="1252.8" y1="530.5" x2="1252.8" y2="537.1"/><line x1="1251.2" y1="510.7" x2="1254.3999999999999" y2="510.7" stroke-width="2.6"/><line x1="1251.2" y1="537.1" x2="1254.3999999999999" y2="537.1" stroke-width="2.6"/><rect x="1245.5" y="522.1" width="14.6" height="8.399999999999977" fill="#fff"/><line x1="1245.5" y1="526.0" x2="1260.1" y2="526.0"/>
<line x1="1271.9" y1="512.3" x2="1271.9" y2="519.6"/><line x1="1271.9" y1="528.7" x2="1271.9" y2="537.1"/><line x1="1270.3000000000002" y1="512.3" x2="1273.5" y2="512.3" stroke-width="2.6"/><line x1="1270.3000000000002" y1="537.1" x2="1273.5" y2="537.1" stroke-width="2.6"/><rect x="1264.6000000000001" y="519.6" width="14.6" height="9.100000000000023" fill="#fff"/><line x1="1264.6000000000001" y1="524.0" x2="1279.2" y2="524.0"/>
<line x1="1291.0" y1="515.6" x2="1291.0" y2="523.2"/><line x1="1291.0" y1="536.0" x2="1291.0" y2="548.8"/><line x1="1289.4" y1="515.6" x2="1292.6" y2="515.6" stroke-width="2.6"/><line x1="1289.4" y1="548.8" x2="1292.6" y2="548.8" stroke-width="2.6"/><rect x="1283.7" y="523.2" width="14.6" height="12.799999999999955" fill="#fff"/><line x1="1283.7" y1="532.7" x2="1298.3" y2="532.7"/>
</g>
<text x="1062.6" y="607.3" font-size="18.2" text-anchor="middle" >-6</text>
<text x="1100.8" y="607.3" font-size="18.2" text-anchor="middle" >-4</text>
<text x="1139.0" y="607.3" font-size="18.2" text-anchor="middle" >-2</text>
<text x="1177.2" y="607.3" font-size="18.2" text-anchor="middle" >0</text>
<text x="1215.4" y="607.3" font-size="18.2" text-anchor="middle" >2</text>
<text x="1253.6" y="607.3" font-size="18.2" text-anchor="middle" >4</text>
<text x="1291.8" y="607.3" font-size="18.2" text-anchor="middle" >6</text>
<text x="1177.2" y="642.3" font-size="21.5" text-anchor="middle" >X (mm)</text>
<text x="1181.6" y="373.7" font-size="32" text-anchor="middle" >(j)</text>
<text x="1316.8" y="431.8" font-size="18" text-anchor="start" >1.0</text>
<text x="1316.8" y="464.3" font-size="18" text-anchor="start" >0.8</text>
<text x="1316.8" y="496.8" font-size="18" text-anchor="start" >0.6</text>
<text x="1316.8" y="529.3" font-size="18" text-anchor="start" >0.4</text>
<text x="1316.8" y="561.8" font-size="18" text-anchor="start" >0.2</text>
<text transform="translate(1359.2 133.3) rotate(90)" font-size="21" text-anchor="middle">Normalized pressure</text>
<text transform="translate(1359.2 481.2) rotate(90)" font-size="21" text-anchor="middle">Normalized pressure</text>
</svg></body></html>
